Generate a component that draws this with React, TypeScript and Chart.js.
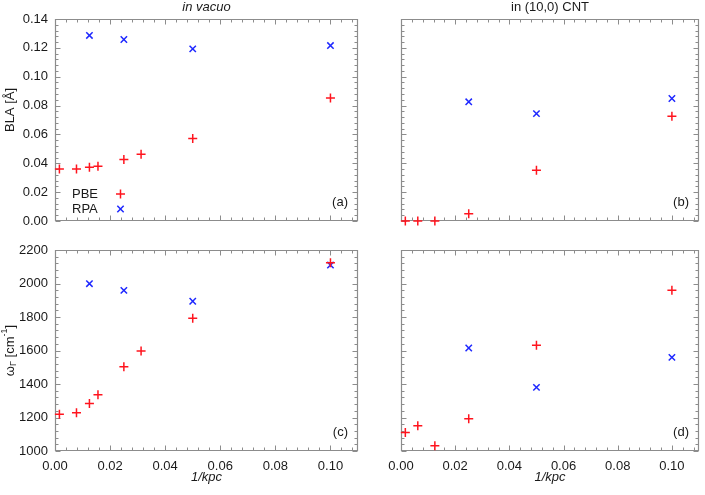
import React, { useEffect, useRef } from 'react';
import { Chart, registerables } from 'chart.js';

Chart.register(...registerables);

// ---------- Data ----------
const xTickValues = [0, 0.02, 0.04, 0.06, 0.08, 0.1];
const xMinorStep = 0.004;
const xRange = [0, 0.11];

const blaTickValues = [0, 0.02, 0.04, 0.06, 0.08, 0.1, 0.12, 0.14];
const blaMinorStep = 0.004;
const blaRange = [0, 0.14];

const freqTickValues = [1000, 1200, 1400, 1600, 1800, 2000, 2200];
const freqMinorStep = 40;
const freqRange = [1000, 2200];

// in vacuo
const xVacuoPBE = [0.0016, 0.0078, 0.0125, 0.0156, 0.025, 0.03125, 0.05, 0.1];
const blaVacuoPBE = [0.036, 0.036, 0.0372, 0.0379, 0.0426, 0.0463, 0.0572, 0.0853];
const freqVacuoPBE = [1219, 1229, 1283, 1336, 1503, 1597, 1792, 2124];

const xVacuoRPA = [0.0125, 0.025, 0.05, 0.1];
const blaVacuoRPA = [0.1286, 0.1258, 0.1193, 0.1216];
const freqVacuoRPA = [1999, 1959, 1894, 2110];

// in (10,0) CNT
const xCntPBE = [0.0016, 0.0062, 0.0125, 0.025, 0.05, 0.1];
const blaCntPBE = [0, 0, 0, 0.0051, 0.0351, 0.0726];
const freqCntPBE = [1111, 1151, 1032, 1193, 1631, 1959];

const xCntRPA = [0.025, 0.05, 0.1];
const blaCntRPA = [0.0826, 0.0744, 0.0849];
const freqCntRPA = [1615, 1380, 1559];

const seriesNames = ['PBE', 'RPA'];
const panelLetters = ['(a)', '(b)', '(c)', '(d)'];
const columnTitles = ['in vacuo', 'in (10,0) CNT'];

// ---------- Styles ----------
const FIG_W = 705;
const FIG_H = 495;
const FONT = "'Liberation Sans', Arial, sans-serif";
const TEXT = '#1a1a1a';
const AXIS = '#8c8c8c';
const RED = 'rgb(255, 20, 30)';
const BLUE = 'rgb(30, 40, 255)';

type Area = { left: number; top: number; right: number; bottom: number };

type Panel = {
  area: Area;
  xLabels: boolean;
  yLabels: boolean;
  yTicks: number[];
  yMinor: number;
  yRange: number[];
  yFmt: (v: number) => string;
  pbe: { x: number[]; y: number[] };
  rpa: { x: number[]; y: number[] };
  letter: string;
  title?: { text: string; italic: boolean };
  yTitle?: 'bla' | 'freq';
  legend?: boolean;
};

const zip = (xs: number[], ys: number[]) => xs.map((x, i) => ({ x, y: ys[i] }));

function drawCross(ctx: CanvasRenderingContext2D, x: number, y: number, r: number, rot: boolean, color: string) {
  ctx.save();
  ctx.strokeStyle = color;
  ctx.lineWidth = 1.5;
  ctx.beginPath();
  if (rot) {
    const d = r * Math.SQRT1_2;
    ctx.moveTo(x - d, y - d);
    ctx.lineTo(x + d, y + d);
    ctx.moveTo(x - d, y + d);
    ctx.lineTo(x + d, y - d);
  } else {
    ctx.moveTo(x - r, y);
    ctx.lineTo(x + r, y);
    ctx.moveTo(x, y - r);
    ctx.lineTo(x, y + r);
  }
  ctx.stroke();
  ctx.restore();
}

function tickList(range: number[], step: number, majors: number[]) {
  const n = Math.floor((range[1] - range[0]) / step + 1e-6);
  const out: { v: number; major: boolean }[] = [];
  for (let i = 0; i <= n; i++) {
    const v = range[0] + i * step;
    const major = majors.some((m) => Math.abs(m - v) < step * 1e-3);
    out.push({ v, major });
  }
  return out;
}

function makeFramePlugin(p: Panel) {
  return {
    id: 'frame' + p.letter,
    beforeDatasetsDraw(chart: any) {
      const ctx: CanvasRenderingContext2D = chart.ctx;
      const ca = chart.chartArea;
      const xs = chart.scales.x;
      const ys = chart.scales.y;
      const L = Math.round(ca.left) + 0.5;
      const R = Math.round(ca.right) - 0.5;
      const T = Math.round(ca.top) + 0.5;
      const B = Math.round(ca.bottom) - 0.5;
      ctx.save();
      ctx.strokeStyle = AXIS;
      ctx.lineWidth = 1.2;
      ctx.beginPath();
      ctx.rect(L, T, R - L, B - T);
      ctx.stroke();
      ctx.lineWidth = 1;
      ctx.beginPath();
      for (const t of tickList(xRange, xMinorStep, xTickValues)) {
        const px = Math.round(xs.getPixelForValue(t.v)) + 0.5;
        const len = t.major ? 5 : 3;
        ctx.moveTo(px, B);
        ctx.lineTo(px, B - len);
        ctx.moveTo(px, T);
        ctx.lineTo(px, T + len);
      }
      for (const t of tickList(p.yRange, p.yMinor, p.yTicks)) {
        const py = Math.round(ys.getPixelForValue(t.v)) + 0.5;
        const len = t.major ? 5 : 3;
        ctx.moveTo(L, py);
        ctx.lineTo(L + len, py);
        ctx.moveTo(R, py);
        ctx.lineTo(R - len, py);
      }
      ctx.stroke();
      ctx.restore();
    },
    afterDraw(chart: any) {
      const ctx: CanvasRenderingContext2D = chart.ctx;
      const ca = chart.chartArea;
      const cx = (ca.left + ca.right) / 2;
      ctx.save();
      ctx.fillStyle = TEXT;
      ctx.textBaseline = 'middle';
      // panel letter
      ctx.font = `13px ${FONT}`;
      ctx.textAlign = 'right';
      ctx.fillText(p.letter, ca.right - 10, ca.bottom - 19);
      // column title
      if (p.title) {
        ctx.textAlign = 'center';
        ctx.font = `${p.title.italic ? 'italic ' : ''}13px ${FONT}`;
        ctx.fillText(p.title.text, cx, 7);
      }
      // x title
      if (p.xLabels) {
        ctx.textAlign = 'center';
        ctx.font = `italic 13px ${FONT}`;
        ctx.fillText('1/kpc', cx, 477);
      }
      // y title
      if (p.yTitle) {
        const cy = p.yTitle === 'bla' ? 110 : (ca.top + ca.bottom) / 2;
        ctx.save();
        ctx.translate(10, cy);
        ctx.rotate(-Math.PI / 2);
        ctx.textAlign = 'left';
        if (p.yTitle === 'bla') {
          ctx.font = `13px ${FONT}`;
          const s = 'BLA [Å]';
          const w = ctx.measureText(s).width;
          ctx.fillText(s, -w / 2, 0);
        } else {
          const big = `13px ${FONT}`;
          const small = `9px ${FONT}`;
          const parts: { t: string; f: string; dy: number }[] = [
            { t: 'ω', f: big, dy: 0 },
            { t: 'Γ', f: small, dy: 4 },
            { t: ' [cm', f: big, dy: 0 },
            { t: '-1', f: small, dy: -5 },
            { t: ']', f: big, dy: 0 },
          ];
          let total = 0;
          for (const pt of parts) {
            ctx.font = pt.f;
            total += ctx.measureText(pt.t).width;
          }
          let x = -total / 2;
          for (const pt of parts) {
            ctx.font = pt.f;
            ctx.fillText(pt.t, x, pt.dy);
            x += ctx.measureText(pt.t).width;
          }
        }
        ctx.restore();
      }
      // legend
      if (p.legend) {
        ctx.font = `13px ${FONT}`;
        ctx.textAlign = 'left';
        ctx.fillText(seriesNames[0], 72, 194.5);
        ctx.fillText(seriesNames[1], 72, 209.5);
        drawCross(ctx, 120.5, 194, 4.5, false, RED);
        drawCross(ctx, 120.5, 209, 4.5, true, BLUE);
      }
      ctx.restore();
    },
  };
}

function buildConfig(p: Panel): any {
  const X_AXIS_H = 30;
  const Y_AXIS_W = 55;
  const padding = {
    left: p.yLabels ? p.area.left - Y_AXIS_W : p.area.left,
    top: p.area.top,
    right: FIG_W - p.area.right,
    bottom: p.xLabels ? FIG_H - p.area.bottom - X_AXIS_H : FIG_H - p.area.bottom,
  };
  return {
    type: 'scatter',
    data: {
      datasets: [
        {
          label: seriesNames[0],
          data: zip(p.pbe.x, p.pbe.y),
          pointStyle: 'cross',
          pointRadius: 4.5,
          pointBorderWidth: 1.5,
          borderColor: RED,
          backgroundColor: RED,
          showLine: false,
          clip: false,
        },
        {
          label: seriesNames[1],
          data: zip(p.rpa.x, p.rpa.y),
          pointStyle: 'crossRot',
          pointRadius: 4.5,
          pointBorderWidth: 1.5,
          borderColor: BLUE,
          backgroundColor: BLUE,
          showLine: false,
          clip: false,
        },
      ],
    },
    options: {
      responsive: false,
      animation: false,
      devicePixelRatio: 1,
      layout: { padding },
      plugins: { legend: { display: false }, tooltip: { enabled: false }, title: { display: false } },
      scales: {
        x: {
          type: 'linear',
          display: p.xLabels,
          min: xRange[0],
          max: xRange[1],
          grid: { display: false, drawTicks: false, tickLength: 0 },
          border: { display: false },
          afterBuildTicks: (s: any) => {
            s.ticks = xTickValues.map((v) => ({ value: v }));
          },
          afterFit: (s: any) => {
            s.height = p.xLabels ? X_AXIS_H : 0;
          },
          ticks: {
            padding: 8,
            color: TEXT,
            font: { family: FONT, size: 13 },
            maxRotation: 0,
            autoSkip: false,
            callback: (v: number) => Number(v).toFixed(2),
          },
        },
        y: {
          type: 'linear',
          display: p.yLabels,
          min: p.yRange[0],
          max: p.yRange[1],
          grid: { display: false, drawTicks: false, tickLength: 0 },
          border: { display: false },
          afterBuildTicks: (s: any) => {
            s.ticks = p.yTicks.map((v) => ({ value: v }));
          },
          afterFit: (s: any) => {
            s.width = p.yLabels ? Y_AXIS_W : 0;
          },
          ticks: {
            padding: 7,
            color: TEXT,
            font: { family: FONT, size: 13 },
            autoSkip: false,
            callback: (v: number) => p.yFmt(Number(v)),
          },
        },
      },
    },
    plugins: [makeFramePlugin(p)],
  };
}

const panels: Panel[] = [
  {
    area: { left: 55, top: 19, right: 358, bottom: 221 },
    xLabels: false,
    yLabels: true,
    yTicks: blaTickValues,
    yMinor: blaMinorStep,
    yRange: blaRange,
    yFmt: (v) => v.toFixed(2),
    pbe: { x: xVacuoPBE, y: blaVacuoPBE },
    rpa: { x: xVacuoRPA, y: blaVacuoRPA },
    letter: panelLetters[0],
    title: { text: columnTitles[0], italic: true },
    yTitle: 'bla',
    legend: true,
  },
  {
    area: { left: 401, top: 19, right: 703, bottom: 221 },
    xLabels: false,
    yLabels: false,
    yTicks: blaTickValues,
    yMinor: blaMinorStep,
    yRange: blaRange,
    yFmt: (v) => v.toFixed(2),
    pbe: { x: xCntPBE, y: blaCntPBE },
    rpa: { x: xCntRPA, y: blaCntRPA },
    letter: panelLetters[1],
    title: { text: columnTitles[1], italic: false },
  },
  {
    area: { left: 55, top: 250, right: 358, bottom: 451 },
    xLabels: true,
    yLabels: true,
    yTicks: freqTickValues,
    yMinor: freqMinorStep,
    yRange: freqRange,
    yFmt: (v) => String(Math.round(v)),
    pbe: { x: xVacuoPBE, y: freqVacuoPBE },
    rpa: { x: xVacuoRPA, y: freqVacuoRPA },
    letter: panelLetters[2],
    yTitle: 'freq',
  },
  {
    area: { left: 401, top: 250, right: 703, bottom: 451 },
    xLabels: true,
    yLabels: false,
    yTicks: freqTickValues,
    yMinor: freqMinorStep,
    yRange: freqRange,
    yFmt: (v) => String(Math.round(v)),
    pbe: { x: xCntPBE, y: freqCntPBE },
    rpa: { x: xCntRPA, y: freqCntRPA },
    letter: panelLetters[3],
  },
];

function PanelCanvas({ panel }: { panel: Panel }) {
  const ref = useRef<HTMLCanvasElement | null>(null);
  useEffect(() => {
    if (!ref.current) return;
    const chart = new Chart(ref.current, buildConfig(panel));
    return () => chart.destroy();
  }, [panel]);
  return (
    <canvas
      ref={ref}
      width={FIG_W}
      height={FIG_H}
      style={{ position: 'absolute', left: 0, top: 0, width: FIG_W, height: FIG_H }}
    />
  );
}

export default function App() {
  return (
    <div
      style={{
        position: 'absolute',
        left: 0,
        top: 0,
        width: FIG_W,
        height: FIG_H,
        background: '#ffffff',
        overflow: 'hidden',
      }}
    >
      {panels.map((p, i) => (
        <PanelCanvas key={i} panel={p} />
      ))}
    </div>
  );
}
